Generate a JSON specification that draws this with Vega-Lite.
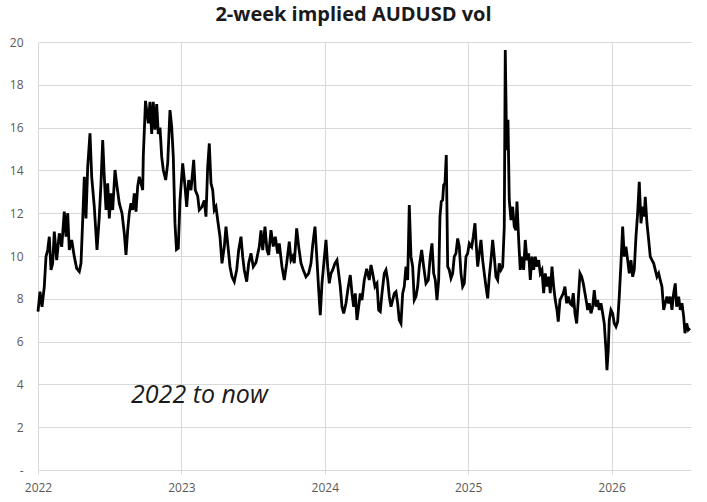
{
  "$schema": "https://vega.github.io/schema/vega-lite/v6.json",
  "autosize": "none",
  "padding": {"left": 38, "top": 42, "right": 16, "bottom": 32},
  "width": 653,
  "height": 428,
  "background": "white",
  "title": {"text": "2-week implied AUDUSD vol", "font": "Open Sans", "fontSize": 20, "fontWeight": "bold", "color": "#1a1a1a", "anchor": "middle", "dx": -11, "offset": 11},
  "config": {"view": {"stroke": null}, "font": "Open Sans"},
  "datasets": {
    "vol": [
      {"year": 2022.0, "vol": 7.4}, {"year": 2022.0139, "vol": 8.33}, {"year": 2022.0279, "vol": 7.63}, {"year": 2022.0439, "vol": 8.57},
      {"year": 2022.0558, "vol": 9.97}, {"year": 2022.0676, "vol": 10.28}, {"year": 2022.0788, "vol": 10.9}, {"year": 2022.0907, "vol": 9.35},
      {"year": 2022.1025, "vol": 9.66}, {"year": 2022.1137, "vol": 11.14}, {"year": 2022.1304, "vol": 9.81}, {"year": 2022.1485, "vol": 11.06},
      {"year": 2022.1653, "vol": 10.43}, {"year": 2022.1834, "vol": 12.07}, {"year": 2022.1953, "vol": 10.9}, {"year": 2022.2071, "vol": 12.0},
      {"year": 2022.2183, "vol": 10.28}, {"year": 2022.235, "vol": 10.75}, {"year": 2022.2531, "vol": 9.97}, {"year": 2022.2699, "vol": 9.42},
      {"year": 2022.288, "vol": 9.27}, {"year": 2022.2999, "vol": 9.66}, {"year": 2022.3117, "vol": 11.68}, {"year": 2022.3229, "vol": 13.7},
      {"year": 2022.3347, "vol": 11.76}, {"year": 2022.3466, "vol": 14.17}, {"year": 2022.3626, "vol": 15.73}, {"year": 2022.3745, "vol": 13.7},
      {"year": 2022.3926, "vol": 12.3}, {"year": 2022.4114, "vol": 10.28}, {"year": 2022.4275, "vol": 11.84}, {"year": 2022.4393, "vol": 13.4},
      {"year": 2022.4512, "vol": 15.42}, {"year": 2022.4623, "vol": 13.7}, {"year": 2022.4742, "vol": 12.15}, {"year": 2022.4861, "vol": 13.4},
      {"year": 2022.4972, "vol": 11.76}, {"year": 2022.5091, "vol": 12.93}, {"year": 2022.5209, "vol": 12.15}, {"year": 2022.537, "vol": 14.02},
      {"year": 2022.5509, "vol": 13.26}, {"year": 2022.567, "vol": 12.46}, {"year": 2022.5858, "vol": 12.0}, {"year": 2022.6018, "vol": 11.06},
      {"year": 2022.6137, "vol": 10.05}, {"year": 2022.6255, "vol": 11.21}, {"year": 2022.6367, "vol": 12.0}, {"year": 2022.6485, "vol": 12.46},
      {"year": 2022.6604, "vol": 12.15}, {"year": 2022.6715, "vol": 12.93}, {"year": 2022.6834, "vol": 12.07}, {"year": 2022.6953, "vol": 13.26},
      {"year": 2022.7064, "vol": 13.7}, {"year": 2022.7183, "vol": 13.4}, {"year": 2022.7301, "vol": 13.08}, {"year": 2022.7343, "vol": 14.64},
      {"year": 2022.7497, "vol": 17.25}, {"year": 2022.7692, "vol": 16.2}, {"year": 2022.781, "vol": 17.2}, {"year": 2022.7929, "vol": 15.7},
      {"year": 2022.804, "vol": 17.2}, {"year": 2022.8159, "vol": 15.9}, {"year": 2022.8278, "vol": 17.1}, {"year": 2022.8389, "vol": 15.7},
      {"year": 2022.8508, "vol": 16.0}, {"year": 2022.8626, "vol": 14.64}, {"year": 2022.8738, "vol": 14.02}, {"year": 2022.8905, "vol": 13.55},
      {"year": 2022.9045, "vol": 14.33}, {"year": 2022.9205, "vol": 16.82}, {"year": 2022.9324, "vol": 16.04}, {"year": 2022.9435, "vol": 14.64},
      {"year": 2022.9554, "vol": 11.5}, {"year": 2022.9658, "vol": 10.3}, {"year": 2022.9784, "vol": 10.36}, {"year": 2022.9902, "vol": 12.6},
      {"year": 2023.0091, "vol": 14.33}, {"year": 2023.0251, "vol": 13.26}, {"year": 2023.037, "vol": 12.3}, {"year": 2023.0509, "vol": 13.55},
      {"year": 2023.0669, "vol": 13.08}, {"year": 2023.0858, "vol": 14.49}, {"year": 2023.0969, "vol": 13.08}, {"year": 2023.1137, "vol": 12.8},
      {"year": 2023.1248, "vol": 12.15}, {"year": 2023.1437, "vol": 12.3}, {"year": 2023.1597, "vol": 12.6}, {"year": 2023.1715, "vol": 11.84},
      {"year": 2023.1834, "vol": 14.17}, {"year": 2023.1946, "vol": 15.26}, {"year": 2023.2064, "vol": 13.4}, {"year": 2023.2183, "vol": 13.08},
      {"year": 2023.2294, "vol": 12.15}, {"year": 2023.2413, "vol": 12.3}, {"year": 2023.2531, "vol": 11.68}, {"year": 2023.2692, "vol": 10.9},
      {"year": 2023.2831, "vol": 9.66}, {"year": 2023.2992, "vol": 10.43}, {"year": 2023.311, "vol": 11.37}, {"year": 2023.3229, "vol": 10.59},
      {"year": 2023.3389, "vol": 9.5}, {"year": 2023.3529, "vol": 9.03}, {"year": 2023.3689, "vol": 8.8}, {"year": 2023.3856, "vol": 9.35},
      {"year": 2023.3996, "vol": 10.28}, {"year": 2023.4156, "vol": 10.9}, {"year": 2023.4275, "vol": 9.97}, {"year": 2023.4386, "vol": 9.35},
      {"year": 2023.4554, "vol": 8.8}, {"year": 2023.4693, "vol": 9.66}, {"year": 2023.4854, "vol": 10.12}, {"year": 2023.5014, "vol": 9.5},
      {"year": 2023.5202, "vol": 9.7}, {"year": 2023.5433, "vol": 10.44}, {"year": 2023.5551, "vol": 11.2}, {"year": 2023.567, "vol": 10.28},
      {"year": 2023.583, "vol": 11.37}, {"year": 2023.5969, "vol": 10.28}, {"year": 2023.6088, "vol": 10.05}, {"year": 2023.6248, "vol": 11.21},
      {"year": 2023.6409, "vol": 10.44}, {"year": 2023.6548, "vol": 10.9}, {"year": 2023.6716, "vol": 10.12}, {"year": 2023.6827, "vol": 10.59},
      {"year": 2023.7015, "vol": 9.5}, {"year": 2023.7176, "vol": 8.88}, {"year": 2023.7343, "vol": 9.66}, {"year": 2023.7524, "vol": 10.67},
      {"year": 2023.7643, "vol": 9.81}, {"year": 2023.7762, "vol": 9.97}, {"year": 2023.7873, "vol": 9.66}, {"year": 2023.804, "vol": 11.29},
      {"year": 2023.818, "vol": 10.44}, {"year": 2023.834, "vol": 9.66}, {"year": 2023.8501, "vol": 9.35}, {"year": 2023.8689, "vol": 9.03},
      {"year": 2023.8877, "vol": 9.19}, {"year": 2023.9038, "vol": 9.66}, {"year": 2023.9156, "vol": 10.51}, {"year": 2023.9317, "vol": 11.37},
      {"year": 2023.9456, "vol": 9.81}, {"year": 2023.9575, "vol": 8.41}, {"year": 2023.9686, "vol": 7.24}, {"year": 2023.9805, "vol": 8.72},
      {"year": 2023.9923, "vol": 9.58}, {"year": 2024.0084, "vol": 10.75}, {"year": 2024.0202, "vol": 9.5}, {"year": 2024.0314, "vol": 8.72},
      {"year": 2024.0432, "vol": 9.19}, {"year": 2024.0551, "vol": 9.35}, {"year": 2024.0711, "vol": 9.66}, {"year": 2024.0851, "vol": 9.81},
      {"year": 2024.0969, "vol": 9.19}, {"year": 2024.1081, "vol": 8.57}, {"year": 2024.1199, "vol": 7.63}, {"year": 2024.1318, "vol": 7.32},
      {"year": 2024.1478, "vol": 7.79}, {"year": 2024.1639, "vol": 8.57}, {"year": 2024.1778, "vol": 9.11}, {"year": 2024.1897, "vol": 8.25},
      {"year": 2024.2015, "vol": 7.63}, {"year": 2024.2127, "vol": 8.25}, {"year": 2024.2245, "vol": 7.01}, {"year": 2024.2364, "vol": 7.63},
      {"year": 2024.2476, "vol": 8.25}, {"year": 2024.2594, "vol": 7.94}, {"year": 2024.2755, "vol": 8.88}, {"year": 2024.2922, "vol": 9.4},
      {"year": 2024.3103, "vol": 8.88}, {"year": 2024.3222, "vol": 9.58}, {"year": 2024.334, "vol": 9.19}, {"year": 2024.3501, "vol": 8.57},
      {"year": 2024.364, "vol": 8.72}, {"year": 2024.3759, "vol": 7.47}, {"year": 2024.387, "vol": 7.4}, {"year": 2024.3989, "vol": 8.25},
      {"year": 2024.4149, "vol": 9.19}, {"year": 2024.4268, "vol": 9.35}, {"year": 2024.4386, "vol": 8.88}, {"year": 2024.4498, "vol": 8.1},
      {"year": 2024.4617, "vol": 7.63}, {"year": 2024.4735, "vol": 7.94}, {"year": 2024.4847, "vol": 8.25}, {"year": 2024.4965, "vol": 8.33},
      {"year": 2024.5084, "vol": 7.79}, {"year": 2024.5195, "vol": 7.01}, {"year": 2024.5314, "vol": 6.85}, {"year": 2024.5432, "vol": 8.25},
      {"year": 2024.5544, "vol": 8.57}, {"year": 2024.5662, "vol": 9.5}, {"year": 2024.5781, "vol": 8.88}, {"year": 2024.5893, "vol": 12.38},
      {"year": 2024.6011, "vol": 9.97}, {"year": 2024.613, "vol": 9.5}, {"year": 2024.6241, "vol": 7.94}, {"year": 2024.636, "vol": 8.1},
      {"year": 2024.6478, "vol": 8.57}, {"year": 2024.659, "vol": 9.5}, {"year": 2024.6757, "vol": 10.28}, {"year": 2024.6897, "vol": 9.5},
      {"year": 2024.7057, "vol": 8.72}, {"year": 2024.7218, "vol": 8.88}, {"year": 2024.7357, "vol": 9.97}, {"year": 2024.7476, "vol": 10.59},
      {"year": 2024.7594, "vol": 9.19}, {"year": 2024.7706, "vol": 8.88}, {"year": 2024.7824, "vol": 7.94}, {"year": 2024.7943, "vol": 8.88},
      {"year": 2024.8033, "vol": 11.84}, {"year": 2024.8124, "vol": 12.54}, {"year": 2024.8222, "vol": 12.62}, {"year": 2024.8291, "vol": 13.32},
      {"year": 2024.8382, "vol": 13.4}, {"year": 2024.8473, "vol": 14.72}, {"year": 2024.8571, "vol": 9.5}, {"year": 2024.8682, "vol": 9.35},
      {"year": 2024.8801, "vol": 8.96}, {"year": 2024.8919, "vol": 9.19}, {"year": 2024.9031, "vol": 9.97}, {"year": 2024.9149, "vol": 10.12},
      {"year": 2024.9268, "vol": 10.82}, {"year": 2024.938, "vol": 10.43}, {"year": 2024.9498, "vol": 9.19}, {"year": 2024.9617, "vol": 8.57},
      {"year": 2024.9728, "vol": 8.72}, {"year": 2024.9847, "vol": 9.97}, {"year": 2024.9965, "vol": 10.12}, {"year": 2025.0077, "vol": 10.59},
      {"year": 2025.0244, "vol": 10.43}, {"year": 2025.0356, "vol": 10.9}, {"year": 2025.0474, "vol": 11.53}, {"year": 2025.0593, "vol": 10.2},
      {"year": 2025.0663, "vol": 9.5}, {"year": 2025.0774, "vol": 10.12}, {"year": 2025.0893, "vol": 10.75}, {"year": 2025.1011, "vol": 9.81},
      {"year": 2025.1123, "vol": 9.19}, {"year": 2025.1241, "vol": 8.57}, {"year": 2025.136, "vol": 8.02}, {"year": 2025.1472, "vol": 9.03},
      {"year": 2025.159, "vol": 9.81}, {"year": 2025.1709, "vol": 10.75}, {"year": 2025.182, "vol": 9.97}, {"year": 2025.1939, "vol": 9.03},
      {"year": 2025.2057, "vol": 8.88}, {"year": 2025.2169, "vol": 9.66}, {"year": 2025.2287, "vol": 9.35}, {"year": 2025.2406, "vol": 9.5},
      {"year": 2025.2518, "vol": 11.37}, {"year": 2025.2587, "vol": 19.63}, {"year": 2025.2685, "vol": 14.95}, {"year": 2025.2775, "vol": 16.36},
      {"year": 2025.2866, "vol": 12.62}, {"year": 2025.2985, "vol": 11.68}, {"year": 2025.3103, "vol": 12.3}, {"year": 2025.3215, "vol": 11.37},
      {"year": 2025.3333, "vol": 11.21}, {"year": 2025.3403, "vol": 12.54}, {"year": 2025.3522, "vol": 10.75}, {"year": 2025.3633, "vol": 9.35},
      {"year": 2025.3752, "vol": 9.97}, {"year": 2025.387, "vol": 9.35}, {"year": 2025.3982, "vol": 10.75}, {"year": 2025.41, "vol": 9.81},
      {"year": 2025.4219, "vol": 10.12}, {"year": 2025.4331, "vol": 8.88}, {"year": 2025.4449, "vol": 9.97}, {"year": 2025.4568, "vol": 9.35},
      {"year": 2025.4679, "vol": 9.97}, {"year": 2025.4798, "vol": 9.5}, {"year": 2025.4916, "vol": 9.81}, {"year": 2025.5028, "vol": 9.19},
      {"year": 2025.5146, "vol": 9.35}, {"year": 2025.5265, "vol": 8.26}, {"year": 2025.5377, "vol": 9.19}, {"year": 2025.5495, "vol": 8.57},
      {"year": 2025.5614, "vol": 9.03}, {"year": 2025.5725, "vol": 8.26}, {"year": 2025.5844, "vol": 9.5}, {"year": 2025.5962, "vol": 8.57},
      {"year": 2025.6074, "vol": 7.94}, {"year": 2025.6193, "vol": 7.48}, {"year": 2025.6283, "vol": 6.93}, {"year": 2025.6402, "vol": 7.94},
      {"year": 2025.652, "vol": 8.1}, {"year": 2025.6632, "vol": 8.26}, {"year": 2025.675, "vol": 8.57}, {"year": 2025.6869, "vol": 7.79},
      {"year": 2025.6981, "vol": 8.1}, {"year": 2025.7099, "vol": 7.79}, {"year": 2025.7218, "vol": 7.71}, {"year": 2025.7329, "vol": 8.26},
      {"year": 2025.7448, "vol": 7.32}, {"year": 2025.7566, "vol": 6.85}, {"year": 2025.7678, "vol": 7.94}, {"year": 2025.7797, "vol": 9.19},
      {"year": 2025.7915, "vol": 9.03}, {"year": 2025.8027, "vol": 8.72}, {"year": 2025.8145, "vol": 8.26}, {"year": 2025.8264, "vol": 7.79},
      {"year": 2025.8333, "vol": 7.48}, {"year": 2025.8445, "vol": 7.79}, {"year": 2025.8564, "vol": 7.32}, {"year": 2025.8682, "vol": 7.63},
      {"year": 2025.8794, "vol": 8.41}, {"year": 2025.8912, "vol": 7.63}, {"year": 2025.9031, "vol": 7.94}, {"year": 2025.9142, "vol": 7.48},
      {"year": 2025.9261, "vol": 7.79}, {"year": 2025.938, "vol": 7.32}, {"year": 2025.9491, "vol": 6.85}, {"year": 2025.961, "vol": 5.61},
      {"year": 2025.9679, "vol": 4.67}, {"year": 2025.977, "vol": 5.61}, {"year": 2025.984, "vol": 7.0}, {"year": 2025.9958, "vol": 7.48},
      {"year": 2026.0077, "vol": 7.32}, {"year": 2026.0189, "vol": 6.85}, {"year": 2026.0307, "vol": 6.7}, {"year": 2026.0426, "vol": 6.93},
      {"year": 2026.0537, "vol": 8.1}, {"year": 2026.0656, "vol": 9.66}, {"year": 2026.0774, "vol": 11.37}, {"year": 2026.0886, "vol": 9.97},
      {"year": 2026.1004, "vol": 10.44}, {"year": 2026.1123, "vol": 9.81}, {"year": 2026.1235, "vol": 9.19}, {"year": 2026.1353, "vol": 9.81},
      {"year": 2026.1472, "vol": 9.03}, {"year": 2026.1583, "vol": 9.35}, {"year": 2026.1702, "vol": 10.9}, {"year": 2026.182, "vol": 12.0},
      {"year": 2026.1932, "vol": 13.47}, {"year": 2026.2051, "vol": 11.53}, {"year": 2026.2169, "vol": 12.31}, {"year": 2026.2281, "vol": 11.84},
      {"year": 2026.235, "vol": 12.77}, {"year": 2026.2469, "vol": 11.53}, {"year": 2026.2588, "vol": 10.75}, {"year": 2026.2699, "vol": 9.97},
      {"year": 2026.2818, "vol": 9.81}, {"year": 2026.2936, "vol": 9.66}, {"year": 2026.3048, "vol": 9.35}, {"year": 2026.3166, "vol": 9.03},
      {"year": 2026.3285, "vol": 9.19}, {"year": 2026.3397, "vol": 8.88}, {"year": 2026.3515, "vol": 8.57}, {"year": 2026.3634, "vol": 7.48},
      {"year": 2026.3745, "vol": 7.79}, {"year": 2026.3864, "vol": 8.1}, {"year": 2026.3982, "vol": 7.79}, {"year": 2026.4094, "vol": 8.1},
      {"year": 2026.4212, "vol": 7.48}, {"year": 2026.4331, "vol": 8.26}, {"year": 2026.4443, "vol": 8.72}, {"year": 2026.454, "vol": 7.63},
      {"year": 2026.468, "vol": 8.1}, {"year": 2026.4791, "vol": 7.48}, {"year": 2026.491, "vol": 7.79}, {"year": 2026.5029, "vol": 7.17},
      {"year": 2026.5119, "vol": 6.39}, {"year": 2026.5238, "vol": 6.85}, {"year": 2026.5349, "vol": 6.54}, {"year": 2026.5468, "vol": 6.62}
    ],
    "note": [{"year": 2023.126, "vol": 3.5, "label": "2022 to now"}]
  },
  "layer": [
    {
      "data": {"name": "vol"},
      "mark": {"type": "line", "color": "#000000", "strokeWidth": 2.8, "strokeJoin": "miter", "strokeMiterLimit": 4},
      "encoding": {
        "x": {
          "field": "year", "type": "quantitative",
          "scale": {"domain": [2022, 2026.554], "nice": false, "zero": false},
          "axis": {
            "title": null, "values": [2022, 2023, 2024, 2025, 2026], "format": "d",
            "domain": false, "grid": true, "gridColor": "#d9d9d9", "gridWidth": 1,
            "ticks": true, "tickColor": "#d9d9d9", "tickSize": 4,
            "labelFont": "Open Sans", "labelFontSize": 12, "labelColor": "#595959", "labelPadding": 8,
            "labelFlush": false
          }
        },
        "y": {
          "field": "vol", "type": "quantitative",
          "scale": {"domain": [0, 20], "nice": false},
          "axis": {
            "title": null, "values": [0, 2, 4, 6, 8, 10, 12, 14, 16, 18, 20],
            "labelExpr": "datum.value == 0 ? '-' : datum.label",
            "domain": false, "grid": true, "gridColor": "#d9d9d9", "gridWidth": 1,
            "ticks": false, "labelFont": "Open Sans", "labelFontSize": 12, "labelColor": "#595959", "labelPadding": 15
          }
        }
      }
    },
    {
      "data": {"name": "note"},
      "mark": {"type": "text", "font": "Open Sans", "fontSize": 25, "fontStyle": "italic", "color": "#1a1a1a", "align": "center", "baseline": "middle"},
      "encoding": {
        "x": {"field": "year", "type": "quantitative"},
        "y": {"field": "vol", "type": "quantitative"},
        "text": {"field": "label"}
      }
    }
  ]
}
